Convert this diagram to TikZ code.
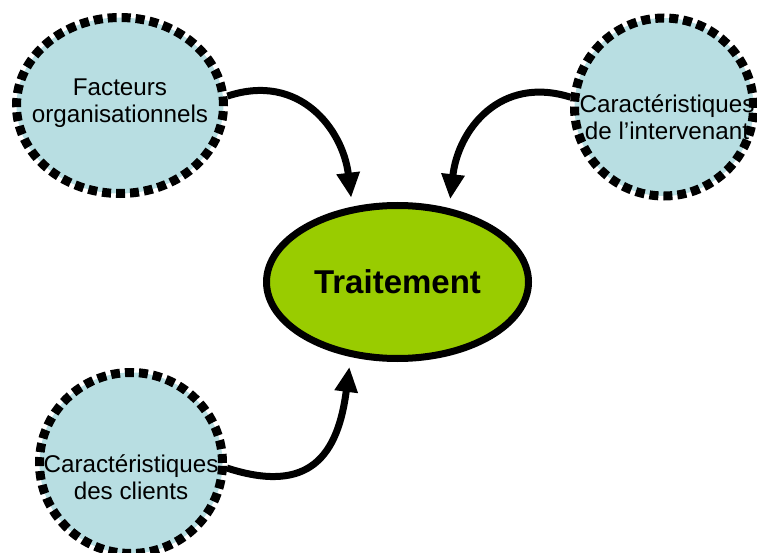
\documentclass[tikz,border=0pt]{standalone}
\usepackage{fontspec}
\setmainfont{Liberation Sans}
\usetikzlibrary{arrows.meta,shapes.geometric}
\definecolor{lightblue}{RGB}{184,222,226}
\definecolor{treatgreen}{RGB}{153,204,0}
\tikzset{
  factor/.style={ellipse, draw=black, fill=lightblue, line width=9pt,
    dash pattern=on 9pt off 5pt, inner sep=0pt},
  factortext/.style={font=\fontsize{24.2}{27}\selectfont, align=center, text=black},
  central/.style={ellipse, draw=black, fill=treatgreen, line width=7pt,
    minimum width=262pt, minimum height=153pt, inner sep=0pt,
    font=\fontsize{33}{36}\selectfont\bfseries},
  link/.style={line width=7pt, -{Triangle[length=25pt,width=22pt]}, shorten >=9pt}
}
\begin{document}
\begin{tikzpicture}[x=1pt,y=-1pt]
\useasboundingbox (0,0) rectangle (757,553);
\node[factor, minimum width=207pt, minimum height=176pt,
  label={[factortext, yshift=2pt]center:Facteurs\\organisationnels}] (org) at (120,105.5) {};
\node[factor, minimum width=179pt, minimum height=178pt,
  label={[factortext, xshift=3pt, yshift=-10pt]center:Caractéristiques\\de l’intervenant}] (inter) at (664,107) {};
\node[factor, minimum width=183pt, minimum height=181pt,
  label={[factortext, yshift=-14pt]center:Caractéristiques\\des clients}] (clients) at (131,463) {};
\node[central] (treat) at (397.5,282) {Traitement};
\draw[link] (org.5) .. controls (300,72) and (343,130) .. (treat.121);
\draw[link] (inter.174) .. controls (500,75) and (458,130) .. (treat.55);
\draw[link, shorten >=10pt] (clients.357) .. controls (310,495) and (338,455) .. (treat.238.5);
\end{tikzpicture}
\end{document}
